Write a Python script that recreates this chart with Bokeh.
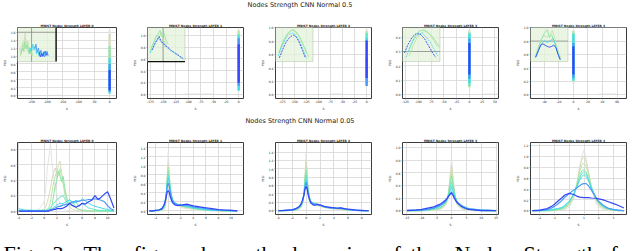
from bokeh.plotting import figure
from bokeh.layouts import row, column
from bokeh.models import Range1d, FixedTicker, PrintfTickFormatter
from bokeh.core.properties import value
from bokeh.embed import file_html
from bokeh.resources import INLINE

# ---------------- colours (oldest -> newest epoch) ----------------
PALETTE = ["#e3e3e1", "#d8dbbd", "#bde4a8", "#8be6a6", "#5de9c6", "#45d9ec", "#4b98f8", "#3347f5"]

ROW_TITLES = ["Nodes Strength CNN Normal 0.5", "Nodes Strength CNN Normal 0.05"]
LAYER_TITLES = ["MNIST Nodes Strength LAYER 0", "MNIST Nodes Strength LAYER 1",
                "MNIST Nodes Strength LAYER 2", "MNIST Nodes Strength LAYER 3",
                "MNIST Nodes Strength LAYER 4"]
CAPTION_WORDS = ["Fig.", "3:", "The", "figure", "shows", "the", "dynamics", "of",
                 "the", "Nodes", "Strength", "for"]
CAPTION_X = [3, 52, 83, 133, 192, 255, 286, 382, 410, 454, 523, 610]

# ---------------- top row (Normal 0.5) ----------------
T_XRANGE = [(-295, 22), (-181, 9.5), (-189, 10), (-131, 57), (-59, 73)]
T_YRANGE = [(-0.07, 1.72), (-0.065, 1.13), (-0.057, 1.003), (-0.027, 0.467), (-0.057, 1.003)]
T_XTICKS = [[-250, -200, -150, -100, -50, 0],
            [-175, -150, -125, -100, -75, -50, -25, 0],
            [-175, -150, -125, -100, -75, -50, -25, 0],
            [-125, -100, -75, -50, -25, 0, 25, 50],
            [-40, -20, 0, 20, 40, 60]]
T_YTICKS = [[0.0, 0.2, 0.4, 0.6, 0.8, 1.0, 1.2, 1.4, 1.6],
            [0.0, 0.2, 0.4, 0.6, 0.8, 1.0],
            [0.0, 0.2, 0.4, 0.6, 0.8, 1.0],
            [0.0, 0.1, 0.2, 0.3, 0.4],
            [0.0, 0.2, 0.4, 0.6, 0.8, 1.0]]

# narrow distributions at S = 0 (drawn as vertical strokes): colour, low, high
t_band_c = [[0, 1, 3, 5, 6, 7], [0, 2, 4, 5, 6, 7], [0, 2, 4, 5, 6, 7],
            [0, 2, 4, 5, 6, 7], [0, 2, 4, 5, 6, 7]]
t_band_lo = [[0.30, 0.25, 0.10, 0.05, 0.10, 0.14],
             [0.50, 0.30, 0.06, 0.08, 0.15, 0.20],
             [0.40, 0.30, 0.13, 0.15, 0.13, 0.25],
             [0.05, 0.05, 0.06, 0.08, 0.11, 0.14],
             [0.17, 0.20, 0.20, 0.22, 0.25, 0.30]]
t_band_hi = [[1.65, 1.55, 1.25, 0.95, 0.80, 0.65],
             [1.08, 1.08, 1.02, 0.98, 0.95, 0.85],
             [0.97, 0.95, 0.92, 0.85, 0.55, 0.81],
             [0.45, 0.44, 0.43, 0.42, 0.39, 0.36],
             [0.96, 0.95, 0.92, 0.90, 0.77, 0.72]]

# faint near-zero tails
t_faint_x = [[-200, -150], [-110, -50], [-75, -50], [25, 55], [35, 60]]
t_faint_y = [0.01, 0.01, 0.01, 0.003, 0.01]

# zoomed inset curves (in host data units)
t0_ic = [0, 1, 2, 3, 5, 6, 7]
t0_ix = [[-288, -284, -280, -276, -272, -268, -264, -260, -256],
         [-287, -283, -279, -275, -271, -267, -263, -259, -255, -251],
         [-286, -282, -278, -274, -270, -266, -262, -258, -254, -250, -246],
         [-284, -280, -276, -272, -268, -264, -260, -256, -252, -248],
         [-258, -254, -250, -246, -242, -238, -234, -230, -226, -222, -218, -214, -210, -206, -202],
         [-240, -236, -232, -228, -224, -220, -216, -212, -208, -204, -200, -197],
         [-226, -222, -218, -214, -210, -206, -202, -199]]
t0_iy = [[1.10, 1.25, 1.15, 1.40, 1.20, 1.30, 1.12, 1.05, 1.10],
         [1.20, 1.05, 1.35, 1.25, 1.58, 1.30, 1.20, 1.10, 1.15, 1.05],
         [1.00, 1.15, 1.30, 1.10, 1.45, 1.20, 1.38, 1.15, 1.05, 1.12, 1.02],
         [1.05, 1.20, 1.12, 1.35, 1.18, 1.28, 1.10, 1.22, 1.08, 1.00],
         [1.05, 1.20, 1.10, 1.30, 1.15, 1.25, 1.05, 1.15, 1.00, 1.10, 0.98, 1.05, 1.12, 1.00, 1.08],
         [1.20, 1.30, 1.10, 1.20, 1.05, 1.15, 1.00, 1.10, 0.98, 1.05, 1.12, 1.00],
         [1.10, 0.98, 1.06, 0.99, 1.08, 1.12, 1.02, 1.06]]

t1_ic = [2, 3, 5, 7]
t1_ix = [[-174, -168, -163, -158, -154, -150, -146, -142],
         [-176, -170, -165, -160, -156, -152, -148, -144, -140],
         [-176, -170, -165, -160, -155, -150, -145, -140, -135, -130, -125, -120, -115, -110],
         [-172, -167, -162, -158, -154, -150, -146, -142, -138, -134, -130, -126, -122, -118, -114, -110]]
t1_iy = [[0.78, 0.90, 1.00, 0.95, 1.05, 0.92, 0.88, 0.80],
         [0.72, 0.85, 0.95, 1.02, 1.08, 0.98, 1.03, 0.90, 0.85],
         [0.70, 0.78, 0.88, 0.95, 0.90, 0.85, 0.80, 0.78, 0.74, 0.72, 0.68, 0.66, 0.62, 0.60],
         [0.75, 0.85, 0.92, 0.98, 0.90, 0.86, 0.84, 0.80, 0.78, 0.74, 0.72, 0.70, 0.68, 0.65, 0.63, 0.61]]

t2_ic = [2, 3, 5, 7]
t2_ix = [[-180, -174, -168, -162, -156, -150, -144, -138, -132, -126, -120],
         [-182, -176, -170, -164, -158, -153, -148, -142, -136, -130, -124],
         [-183, -177, -171, -165, -159, -153, -147, -141, -135, -129, -124],
         [-181, -175, -169, -163, -157, -151, -145, -139, -133, -127]]
t2_iy = [[0.66, 0.78, 0.87, 0.93, 0.96, 0.95, 0.91, 0.84, 0.75, 0.65, 0.56],
         [0.62, 0.74, 0.84, 0.91, 0.95, 0.97, 0.95, 0.90, 0.82, 0.72, 0.62],
         [0.58, 0.70, 0.80, 0.87, 0.91, 0.92, 0.89, 0.82, 0.73, 0.62, 0.54],
         [0.55, 0.66, 0.76, 0.83, 0.87, 0.89, 0.85, 0.77, 0.66, 0.55]]

t3_ic = [2, 3, 5, 7]
t3_ix = [[-118, -110, -102, -94, -86, -78, -70, -62],
         [-120, -112, -104, -96, -88, -80, -72, -64, -58],
         [-124, -116, -108, -100, -92, -84, -76, -68, -62],
         [-127, -120, -112, -104, -96, -88, -80, -72, -66]]
t3_iy = [[0.27, 0.34, 0.40, 0.43, 0.44, 0.42, 0.38, 0.33],
         [0.30, 0.37, 0.42, 0.445, 0.45, 0.43, 0.40, 0.36, 0.33],
         [0.26, 0.33, 0.39, 0.42, 0.425, 0.40, 0.36, 0.31, 0.27],
         [0.29, 0.35, 0.40, 0.425, 0.42, 0.39, 0.34, 0.29, 0.26]]

t4_ic = [2, 3, 5, 7]
t4_ix = [[-52, -48, -44, -40, -36, -32, -29, -26, -23, -20, -17],
         [-52, -48, -44, -40, -36, -33, -30, -27, -24, -21, -18],
         [-52, -48, -44, -40, -36, -32, -28, -25, -22, -19],
         [-52, -48, -45, -42, -39, -36, -33, -30, -27, -24, -21, -18]]
t4_iy = [[0.58, 0.72, 0.84, 0.88, 0.86, 0.90, 0.96, 0.86, 0.72, 0.62, 0.54],
         [0.56, 0.70, 0.82, 0.92, 0.97, 0.85, 0.90, 0.80, 0.70, 0.60, 0.52],
         [0.55, 0.66, 0.76, 0.80, 0.78, 0.80, 0.84, 0.76, 0.64, 0.54],
         [0.56, 0.66, 0.74, 0.76, 0.74, 0.72, 0.71, 0.72, 0.74, 0.70, 0.60, 0.52]]

T_INSET_X = [t0_ix, t1_ix, t2_ix, t3_ix, t4_ix]
T_INSET_Y = [t0_iy, t1_iy, t2_iy, t3_iy, t4_iy]
T_INSET_C = [t0_ic, t1_ic, t2_ic, t3_ic, t4_ic]
T_INSET_DASH = ["solid", "2 1", "2 1", "2 1", "solid"]
T_INSET_VLINE = [-250, -150, None, None, None]
T_INSET_HLINE = [1.6, None, None, 0.3, 0.8]
T_INSET_EDGE = ["right", "bottom", None, None, None]

# ---------------- bottom row (Normal 0.05) ----------------
B_XRANGE = [(-4.2, 11.4), (-3.3, 12), (-4.4, 9.4), (-16.5, 15.8), (-2.63, 3.88)]
B_YRANGE = [(-0.045, 0.89), (-0.08, 1.52), (-0.09, 1.63), (-0.06, 1.08), (-0.07, 1.26)]
B_XTICKS = [[-4, -2, 0, 2, 4, 6, 8, 10], [-2, 0, 2, 4, 6, 8, 10], [-4, -2, 0, 2, 4, 6, 8],
            [-15, -10, -5, 0, 5, 10, 15], [-2, -1, 0, 1, 2, 3]]
B_YTICKS = [[0.0, 0.2, 0.4, 0.6, 0.8],
            [0.0, 0.2, 0.4, 0.6, 0.8, 1.0, 1.2, 1.4],
            [0.0, 0.2, 0.4, 0.6, 0.8, 1.0, 1.2, 1.4],
            [0.0, 0.2, 0.4, 0.6, 0.8, 1.0],
            [0.0, 0.2, 0.4, 0.6, 0.8, 1.0, 1.2]]

b0_x = [-4, -3.5, -3, -2.5, -2, -1.5, -1, -0.5,
        0, 0.25, 0.5, 0.75, 1, 1.25, 1.5, 1.75, 2, 2.25, 2.5, 2.75, 3, 3.25, 3.5, 3.75, 4,
        4.5, 5, 5.5, 6, 6.5, 7, 7.5, 8, 8.5, 9, 9.5, 10, 10.5, 11]
b0_y = [
    [0, 0, 0, 0, 0, 0, 0.01, 0.06,
     0.12, 0.3, 0.55, 0.7, 0.88, 0.6, 0.45, 0.3, 0.22, 0.15, 0.1, 0.05, 0.03, 0.02, 0.01, 0.01, 0,
     0, 0, 0, 0, 0, 0, 0, 0, 0, 0, 0, 0, 0, 0],
    [0, 0, 0, 0, 0, 0, 0, 0.01,
     0.02, 0.05, 0.12, 0.2, 0.3, 0.42, 0.5, 0.56, 0.48, 0.6, 0.65, 0.5, 0.38, 0.25, 0.15, 0.08, 0.05,
     0.02, 0.01, 0, 0, 0, 0, 0, 0, 0, 0, 0, 0, 0, 0],
    [0, 0, 0, 0, 0, 0, 0, 0,
     0.01, 0.01, 0.02, 0.05, 0.12, 0.25, 0.38, 0.45, 0.52, 0.46, 0.55, 0.42, 0.35, 0.22, 0.15, 0.1, 0.06,
     0.08, 0.04, 0.02, 0.01, 0, 0, 0, 0, 0, 0, 0, 0, 0, 0],
    [0, 0, 0, 0, 0, 0, 0, 0,
     0, 0, 0.01, 0.01, 0.02, 0.08, 0.2, 0.33, 0.4, 0.52, 0.45, 0.38, 0.45, 0.3, 0.2, 0.12, 0.08,
     0.12, 0.05, 0.02, 0.01, 0.01, 0, 0, 0, 0, 0, 0, 0, 0, 0],
    [0.01, 0.01, 0.01, 0.01, 0.01, 0.01, 0.01, 0.01,
     0.01, 0.01, 0.02, 0.03, 0.05, 0.07, 0.1, 0.12, 0.15, 0.16, 0.18, 0.19, 0.2, 0.16, 0.12, 0.13, 0.14,
     0.1, 0.12, 0.06, 0.1, 0.07, 0.04, 0.03, 0.02, 0.01, 0.01, 0.01, 0, 0, 0],
    [0.03, 0.02, 0.01, 0.01, 0.01, 0, 0, 0,
     0, 0, 0, 0.01, 0.02, 0.03, 0.05, 0.06, 0.08, 0.09, 0.1, 0.1, 0.1, 0.11, 0.12, 0.13, 0.15,
     0.11, 0.14, 0.12, 0.16, 0.13, 0.1, 0.08, 0.06, 0.05, 0.04, 0.03, 0.02, 0.01, 0.01],
    [0, 0, 0, 0, 0, 0, 0, 0,
     0, 0, 0, 0.01, 0.02, 0.02, 0.03, 0.04, 0.05, 0.06, 0.06, 0.07, 0.08, 0.08, 0.09, 0.09, 0.1,
     0.12, 0.12, 0.13, 0.14, 0.14, 0.15, 0.15, 0.16, 0.15, 0.14, 0.12, 0.07, 0.03, 0.01],
    [0, 0, 0, 0, 0, 0, 0, 0,
     0, 0, 0, 0, 0.01, 0.01, 0.02, 0.02, 0.03, 0.03, 0.03, 0.03, 0.04, 0.05, 0.06, 0.08, 0.1,
     0.07, 0.05, 0.07, 0.1, 0.09, 0.12, 0.14, 0.2, 0.15, 0.18, 0.22, 0.25, 0.15, 0.04],
]

b1_x = [-3, -2.5, -2, -1.5, -1, -0.7, -0.5, -0.3, -0.15, 0, 0.15, 0.3, 0.5, 0.7, 1, 1.3,
        1.6, 2, 2.5, 3, 3.5, 4, 4.5, 5, 5.5, 6, 7, 8, 9, 10, 11]
b1_y = [
    [0, 0, 0, 0, 0.01, 0.03, 0.08, 0.25, 0.7, 1.3, 0.9, 0.5, 0.3, 0.2, 0.15, 0.12,
     0.1, 0.08, 0.06, 0.05, 0.04, 0.03, 0.02, 0.02, 0.01, 0.01, 0, 0, 0, 0, 0],
    [0, 0, 0, 0, 0.01, 0.04, 0.1, 0.3, 0.7, 1.05, 0.85, 0.55, 0.35, 0.25, 0.18, 0.14,
     0.12, 0.1, 0.08, 0.07, 0.06, 0.05, 0.04, 0.03, 0.02, 0.02, 0.01, 0, 0, 0, 0],
    [0, 0, 0, 0.01, 0.02, 0.05, 0.12, 0.35, 0.75, 0.98, 0.8, 0.55, 0.35, 0.25, 0.18, 0.15,
     0.13, 0.11, 0.09, 0.08, 0.07, 0.05, 0.04, 0.03, 0.02, 0.02, 0.01, 0, 0, 0, 0],
    [0, 0, 0, 0.01, 0.02, 0.06, 0.13, 0.35, 0.7, 0.9, 0.78, 0.55, 0.36, 0.26, 0.19, 0.16,
     0.14, 0.12, 0.1, 0.09, 0.07, 0.06, 0.05, 0.04, 0.03, 0.02, 0.01, 0.01, 0, 0, 0],
    [0, 0, 0.01, 0.01, 0.03, 0.08, 0.15, 0.38, 0.65, 0.8, 0.7, 0.52, 0.35, 0.25, 0.19, 0.16,
     0.14, 0.12, 0.1, 0.09, 0.08, 0.06, 0.05, 0.04, 0.03, 0.02, 0.01, 0.01, 0, 0, 0],
    [0, 0, 0.01, 0.02, 0.04, 0.1, 0.18, 0.4, 0.62, 0.72, 0.64, 0.48, 0.33, 0.24, 0.18, 0.16,
     0.14, 0.13, 0.11, 0.1, 0.09, 0.07, 0.06, 0.05, 0.04, 0.03, 0.02, 0.01, 0.01, 0, 0],
    [0, 0, 0.01, 0.02, 0.05, 0.12, 0.2, 0.38, 0.55, 0.62, 0.56, 0.43, 0.3, 0.22, 0.17, 0.15,
     0.14, 0.13, 0.12, 0.12, 0.11, 0.09, 0.08, 0.07, 0.06, 0.05, 0.03, 0.02, 0.01, 0.01, 0],
    [0, 0, 0.01, 0.02, 0.05, 0.12, 0.2, 0.32, 0.42, 0.45, 0.42, 0.33, 0.24, 0.18, 0.14, 0.12,
     0.12, 0.13, 0.14, 0.15, 0.13, 0.11, 0.1, 0.09, 0.08, 0.07, 0.05, 0.03, 0.02, 0.01, 0],
]

b2_x = [-4, -3, -2, -1.5, -1, -0.7, -0.5, -0.3, -0.15, 0, 0.15, 0.3, 0.5, 0.7, 1, 1.3,
        1.6, 2, 2.5, 3, 3.5, 4, 4.5, 5, 5.5, 6, 7, 8, 9]
b2_y = [
    [0, 0, 0.01, 0.02, 0.04, 0.08, 0.15, 0.35, 0.8, 1.38, 0.95, 0.5, 0.3, 0.2, 0.15, 0.13,
     0.12, 0.1, 0.08, 0.06, 0.05, 0.04, 0.03, 0.03, 0.02, 0.01, 0, 0, 0],
    [0, 0, 0.01, 0.02, 0.05, 0.1, 0.18, 0.4, 0.85, 1.2, 0.9, 0.5, 0.3, 0.21, 0.16, 0.14,
     0.13, 0.11, 0.09, 0.07, 0.06, 0.05, 0.04, 0.03, 0.02, 0.01, 0.01, 0, 0],
    [0, 0, 0.01, 0.02, 0.05, 0.1, 0.2, 0.42, 0.8, 1.05, 0.82, 0.5, 0.3, 0.22, 0.17, 0.15,
     0.14, 0.12, 0.1, 0.08, 0.06, 0.05, 0.05, 0.04, 0.03, 0.02, 0.01, 0, 0],
    [0, 0, 0.01, 0.03, 0.06, 0.12, 0.22, 0.42, 0.78, 0.98, 0.78, 0.48, 0.3, 0.22, 0.17, 0.16,
     0.15, 0.13, 0.1, 0.08, 0.07, 0.06, 0.05, 0.05, 0.03, 0.02, 0.01, 0, 0],
    [0, 0, 0.01, 0.03, 0.07, 0.13, 0.22, 0.4, 0.7, 0.85, 0.7, 0.45, 0.3, 0.22, 0.18, 0.17,
     0.16, 0.13, 0.1, 0.08, 0.07, 0.07, 0.06, 0.06, 0.04, 0.02, 0.01, 0, 0],
    [0, 0.01, 0.02, 0.04, 0.08, 0.15, 0.24, 0.4, 0.62, 0.75, 0.64, 0.43, 0.29, 0.22, 0.18, 0.17,
     0.16, 0.13, 0.1, 0.08, 0.07, 0.07, 0.06, 0.06, 0.04, 0.03, 0.01, 0, 0],
    [0, 0.01, 0.02, 0.04, 0.09, 0.16, 0.25, 0.4, 0.58, 0.68, 0.58, 0.4, 0.27, 0.2, 0.17, 0.16,
     0.15, 0.13, 0.1, 0.08, 0.07, 0.07, 0.06, 0.06, 0.04, 0.03, 0.01, 0, 0],
    [0, 0.01, 0.02, 0.05, 0.1, 0.17, 0.26, 0.38, 0.52, 0.58, 0.52, 0.38, 0.25, 0.18, 0.14, 0.13,
     0.15, 0.14, 0.11, 0.09, 0.08, 0.07, 0.06, 0.07, 0.05, 0.04, 0.02, 0.01, 0],
]

b3_x = [-15, -12, -10, -8, -6, -5, -4, -3, -2, -1.5, -1, -0.5, 0, 0.5, 1, 1.5, 2, 3, 4, 5,
        6, 8, 10, 12, 15]
b3_y = [
    [0, 0, 0, 0, 0.01, 0.01, 0.02, 0.04, 0.08, 0.14, 0.28, 0.55, 0.82, 0.55, 0.28, 0.14, 0.08,
     0.04, 0.02, 0.01, 0.01, 0, 0, 0, 0],
    [0, 0, 0, 0.01, 0.01, 0.02, 0.03, 0.05, 0.1, 0.16, 0.3, 0.52, 0.72, 0.5, 0.3, 0.16, 0.1,
     0.05, 0.03, 0.02, 0.01, 0, 0, 0, 0],
    [0, 0, 0, 0.01, 0.02, 0.02, 0.03, 0.06, 0.11, 0.17, 0.28, 0.46, 0.62, 0.45, 0.28, 0.17, 0.11,
     0.06, 0.03, 0.02, 0.01, 0.01, 0, 0, 0],
    [0, 0, 0, 0.01, 0.02, 0.03, 0.04, 0.07, 0.12, 0.18, 0.28, 0.42, 0.55, 0.42, 0.28, 0.18, 0.12,
     0.07, 0.04, 0.03, 0.02, 0.01, 0, 0, 0],
    [0, 0, 0.01, 0.01, 0.03, 0.04, 0.05, 0.08, 0.13, 0.18, 0.25, 0.36, 0.45, 0.36, 0.25, 0.18, 0.13,
     0.08, 0.05, 0.04, 0.03, 0.01, 0.01, 0, 0],
    [0, 0.01, 0.01, 0.02, 0.04, 0.05, 0.07, 0.1, 0.14, 0.18, 0.23, 0.31, 0.38, 0.31, 0.23, 0.18, 0.14,
     0.1, 0.07, 0.05, 0.03, 0.02, 0.01, 0.01, 0],
    [0.01, 0.01, 0.01, 0.02, 0.04, 0.06, 0.08, 0.11, 0.15, 0.18, 0.22, 0.27, 0.3, 0.26, 0.21, 0.17, 0.13,
     0.09, 0.06, 0.04, 0.03, 0.02, 0.01, 0.01, 0],
    [0, 0.01, 0.02, 0.04, 0.06, 0.08, 0.1, 0.13, 0.17, 0.2, 0.23, 0.26, 0.28, 0.24, 0.19, 0.15, 0.12,
     0.08, 0.05, 0.03, 0.02, 0.01, 0, 0, 0],
]

b4_x = [-2.5, -2, -1.5, -1.2, -1, -0.8, -0.5, -0.3, 0, 0.3, 0.5, 0.7, 0.85, 1, 1.15, 1.3,
        1.5, 1.8, 2, 2.3, 2.6, 3, 3.3, 3.7]
b4_y = [
    [0, 0, 0, 0, 0, 0, 0.01, 0.02, 0.07, 0.22, 0.45, 0.8, 1.0, 1.12, 0.95, 0.7,
     0.4, 0.15, 0.07, 0.03, 0.01, 0, 0, 0],
    [0, 0, 0, 0, 0, 0.01, 0.02, 0.04, 0.1, 0.25, 0.48, 0.78, 0.95, 1.0, 0.9, 0.72,
     0.45, 0.2, 0.1, 0.05, 0.02, 0.01, 0, 0],
    [0, 0, 0, 0, 0.01, 0.01, 0.03, 0.05, 0.12, 0.28, 0.48, 0.72, 0.85, 0.88, 0.82, 0.68,
     0.45, 0.22, 0.12, 0.06, 0.03, 0.01, 0, 0],
    [0, 0, 0, 0.01, 0.01, 0.02, 0.04, 0.07, 0.14, 0.3, 0.46, 0.65, 0.74, 0.76, 0.72, 0.6,
     0.42, 0.22, 0.14, 0.07, 0.03, 0.01, 0, 0],
    [0, 0, 0.01, 0.01, 0.02, 0.03, 0.05, 0.08, 0.16, 0.3, 0.45, 0.6, 0.69, 0.72, 0.68, 0.58,
     0.42, 0.24, 0.15, 0.08, 0.04, 0.02, 0.01, 0],
    [0, 0.01, 0.01, 0.02, 0.03, 0.04, 0.06, 0.1, 0.18, 0.31, 0.43, 0.56, 0.63, 0.67, 0.63, 0.55,
     0.42, 0.25, 0.17, 0.1, 0.05, 0.02, 0.01, 0],
    [0, 0, 0.02, 0.05, 0.08, 0.12, 0.19, 0.25, 0.32, 0.38, 0.42, 0.46, 0.49, 0.5, 0.5, 0.46,
     0.38, 0.25, 0.17, 0.1, 0.05, 0.02, 0.01, 0],
    [0, 0.01, 0.04, 0.08, 0.12, 0.17, 0.24, 0.29, 0.32, 0.3, 0.27, 0.25, 0.245, 0.24, 0.24, 0.24,
     0.235, 0.23, 0.22, 0.2, 0.17, 0.13, 0.1, 0.05],
]
B_X = [b0_x, b1_x, b2_x, b3_x, b4_x]
B_Y = [b0_y, b1_y, b2_y, b3_y, b4_y]
B_C = [0, 1, 2, 3, 4, 5, 6, 7]

# ---------------- layout geometry ----------------
COL_W = [130, 128, 127, 128, 127]
BORDER_L = [17, 14, 14, 14, 14]
BORDER_R = [14, 15, 14, 15, 14]
INSET_FRAC_W, INSET_FRAC_H = 0.39, 0.48
FONT = "DejaVu Sans"


def subplot(i, xr, yr, xt, yt, h, bt, bb):
    p = figure(width=COL_W[i], height=h, x_range=Range1d(*xr), y_range=Range1d(*yr),
               output_backend="svg", toolbar_location=None,
               min_border_left=BORDER_L[i], min_border_right=BORDER_R[i],
               min_border_top=bt, min_border_bottom=bb,
               background_fill_color="white", border_fill_color="white")
    p.title.text = LAYER_TITLES[i]
    p.title.text_font = FONT
    p.title.text_font_size = "3px"
    p.title.text_font_style = "bold"
    p.title.align = "center"
    p.title.standoff = 1
    p.title.text_color = "#222222"
    p.xaxis.ticker = FixedTicker(ticks=xt)
    p.yaxis.ticker = FixedTicker(ticks=yt)
    p.xaxis.formatter = PrintfTickFormatter(format="%d")
    p.yaxis.formatter = PrintfTickFormatter(format="%.1f")
    p.xaxis.axis_label = "S"
    p.yaxis.axis_label = "P(S)"
    for ax in (p.xaxis, p.yaxis):
        ax.axis_line_color = None
        ax.major_label_text_font = FONT
        ax.major_label_text_font_size = "3px"
        ax.major_label_text_color = "#222222"
        ax.axis_label_text_font = FONT
        ax.axis_label_text_font_size = "3px"
        ax.axis_label_text_font_style = "normal"
        ax.axis_label_text_color = "#222222"
        ax.axis_label_standoff = 1
        ax.major_tick_out = 1
        ax.major_tick_in = 0
        ax.minor_tick_out = 0
        ax.minor_tick_in = 0
        ax.major_tick_line_color = "#444444"
        ax.major_tick_line_width = 0.5
    p.xaxis.major_label_standoff = 0
    p.yaxis.major_label_standoff = 1
    p.grid.grid_line_color = "#d6d6d6"
    p.grid.grid_line_width = 0.8
    p.outline_line_color = "#3c3c3c"
    p.outline_line_width = 1
    return p


top_figs = []
for i in range(5):
    xr, yr = T_XRANGE[i], T_YRANGE[i]
    p = subplot(i, xr, yr, T_XTICKS[i], T_YTICKS[i], 95, 10, 11)
    # inset box
    x0 = xr[0]
    x1 = xr[0] + INSET_FRAC_W * (xr[1] - xr[0])
    y1 = yr[1]
    y0 = yr[1] - INSET_FRAC_H * (yr[1] - yr[0])
    p.quad(left=[x0], right=[x1], bottom=[y0], top=[y1], fill_color="#e4f2da",
           fill_alpha=0.75, line_color="#b9c7b0", line_width=0.6)
    if T_INSET_VLINE[i] is not None:
        p.segment(x0=[T_INSET_VLINE[i]], x1=[T_INSET_VLINE[i]], y0=[y0], y1=[y1],
                  line_color="#8a8a8a", line_width=0.8)
    if T_INSET_HLINE[i] is not None:
        p.segment(x0=[x0], x1=[x1], y0=[T_INSET_HLINE[i]], y1=[T_INSET_HLINE[i]],
                  line_color="#8a8a8a", line_width=0.8)
    if T_INSET_EDGE[i] == "right":
        p.segment(x0=[x1], x1=[x1], y0=[y0], y1=[y1], line_color="#111111", line_width=1.4)
    elif T_INSET_EDGE[i] == "bottom":
        p.segment(x0=[x0], x1=[x1], y0=[y0], y1=[y0], line_color="#111111", line_width=1.4)
    for xs, ys, c in zip(T_INSET_X[i], T_INSET_Y[i], T_INSET_C[i]):
        dash = T_INSET_DASH[i] if c >= 5 else "solid"
        p.line(xs, ys, line_color=PALETTE[c], line_width=0.9, line_dash=dash)
    # faint tail
    fx = t_faint_x[i]
    p.line(fx, [t_faint_y[i], t_faint_y[i]], line_color="#dcdcdc", line_width=0.8)
    # strokes at S=0
    for c, lo, hi in zip(t_band_c[i], t_band_lo[i], t_band_hi[i]):
        p.segment(x0=[0], x1=[0], y0=[lo], y1=[hi], line_color=PALETTE[c], line_width=2.2)
    top_figs.append(p)

bot_figs = []
for i in range(5):
    p = subplot(i, B_XRANGE[i], B_YRANGE[i], B_XTICKS[i], B_YTICKS[i], 95, 9, 11)
    for ys, c in zip(B_Y[i], B_C):
        p.line(B_X[i], ys, line_color=PALETTE[c], line_width=1.2 if c >= 6 else 1.0)
    bot_figs.append(p)


def text_fig(h):
    p = figure(width=640, height=h, x_range=Range1d(0, 640), y_range=Range1d(0, h),
               output_backend="svg", toolbar_location=None, min_border=0,
               x_axis_location=None, y_axis_location=None,
               background_fill_color="white", border_fill_color="white")
    p.grid.visible = False
    p.outline_line_color = None
    return p


head1 = text_fig(17)
head1.text(x=[299.5], y=[12.5], text=[ROW_TITLES[0]], text_font=value(FONT),
           text_font_size="6.5px", text_align="center", text_baseline="middle",
           text_color="#222222")
head2 = text_fig(21)
head2.text(x=[299.5], y=[13], text=[ROW_TITLES[1]], text_font=value(FONT),
           text_font_size="6.5px", text_align="center", text_baseline="middle",
           text_color="#222222")
cap = text_fig(23)
cap.text(x=CAPTION_X, y=[-1.5] * len(CAPTION_X), text=CAPTION_WORDS,
         text_font=value("Liberation Serif"), text_font_size="22px",
         text_align="left", text_baseline="alphabetic", text_color="#000000")

layout = column(head1, row(*top_figs, spacing=0), head2, row(*bot_figs, spacing=0), cap,
                spacing=0)

open("out.html", "w").write(file_html(layout, INLINE))
